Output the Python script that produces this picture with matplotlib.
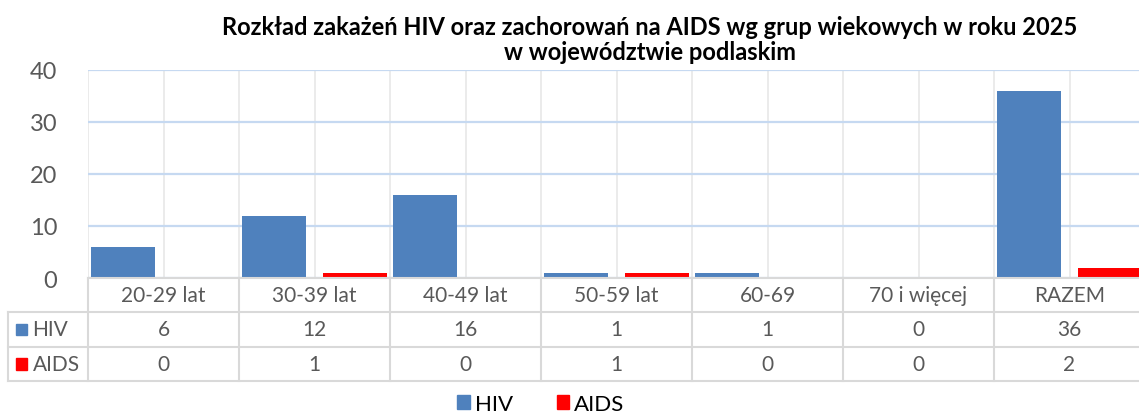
import matplotlib
matplotlib.use("Agg")
import matplotlib.pyplot as plt
from matplotlib.patches import Rectangle

categories = ["20-29 lat", "30-39 lat", "40-49 lat", "50-59 lat", "60-69", "70 i więcej", "RAZEM"]
hiv = [6, 12, 16, 1, 1, 0, 36]
aids = [0, 1, 0, 1, 0, 0, 2]
series_names = ["HIV", "AIDS"]
yticks = [0, 10, 20, 30, 40]
title = "Rozkład zakażeń HIV oraz zachorowań na AIDS wg grup wiekowych w roku 2025\nw województwie podlaskim"

W, H = 1139, 414
plt.rcParams['font.family'] = ['Lato', 'DejaVu Sans']
fig = plt.figure(figsize=(W / 100, H / 100), dpi=100)

blue = "#4f81bd"
red = "#ff0000"
txt = "#595959"
gridc = "#d9d9d9"

def fx(px):
    return px / W

def fy(py):
    return (H - py) / H

x0, x1 = 88, 1145
ytop, ybot = 70.7, 279
ax = fig.add_axes([fx(x0), fy(ybot), fx(x1 - x0), (ybot - ytop) / H])
n = len(categories)
xs = [i + 0.5 for i in range(n)]
bw = 0.424
off = 0.268
ax.set_xlim(0, n)
ax.set_ylim(0, 40)
ax.set_yticks(yticks)
ax.set_xticks([i * 0.5 for i in range(2 * n + 1)])
ax.tick_params(axis='x', length=0, labelbottom=False)
ax.tick_params(axis='y', length=0, labelsize=17, labelcolor=txt, pad=22)
for s in ax.spines.values():
    s.set_visible(False)
ax.grid(axis='y', color="#c6d9f1", lw=1.6, zorder=0)
ax.grid(axis='x', color="#ebebeb", lw=1.4, zorder=0)
ax.set_axisbelow(True)
ax.bar([x - off for x in xs], hiv, width=bw, color=blue, zorder=3)
ax.bar([x + off for x in xs], aids, width=bw, color=red, zorder=3)

# data table
tb, tt = 382, 279
tax = fig.add_axes([fx(x0), fy(tb), fx(x1 - x0), (tb - tt) / H])
tax.set_xlim(0, n)
tax.set_ylim(3, 0)
tax.axis('off')
left = (8 - x0) / 151.0
lw = 1.5
kw = dict(color=gridc, lw=lw, clip_on=False, solid_capstyle='projecting')
tax.plot([0, n], [0, 0], **kw)
tax.plot([left, n], [1, 1], **kw)
tax.plot([left, n], [2, 2], **kw)
tax.plot([left, n], [3, 3], **kw)
for i in range(n + 1):
    tax.plot([i, i], [0, 3], **kw)
tax.plot([left, left], [1, 3], **kw)
fs = 15
for i, c in enumerate(categories):
    tax.text(i + 0.5, 0.5, c, ha='center', va='center', fontsize=fs, color=txt)
    tax.text(i + 0.5, 1.5, str(hiv[i]), ha='center', va='center', fontsize=fs, color=txt)
    tax.text(i + 0.5, 2.5, str(aids[i]), ha='center', va='center', fontsize=fs, color=txt)
for r, (name, col) in enumerate(zip(series_names, [blue, red])):
    sq = 11.5 / 151.0
    tax.add_patch(Rectangle((-0.477, 1.5 + r - 0.17), sq, 0.34, color=col, clip_on=False))
    tax.text(-0.367, 1.5 + r, name, ha='left', va='center', fontsize=fs, color=txt)

# legend
leg = fig.legend(handles=[Rectangle((0, 0), 1, 1, color=blue), Rectangle((0, 0), 1, 1, color=red)],
                 labels=series_names, loc='center', bbox_to_anchor=(fx(541), fy(405)), ncol=2,
                 frameon=False, fontsize=16, handlelength=0.55, handleheight=0.55,
                 handletextpad=0.25, columnspacing=1.95, labelcolor='black')

fig.text(fx(650), fy(40), title, ha='center', va='center', fontsize=17, fontweight='bold',
         color='black', linespacing=1.15)

fig.savefig("out.png", dpi=100)
